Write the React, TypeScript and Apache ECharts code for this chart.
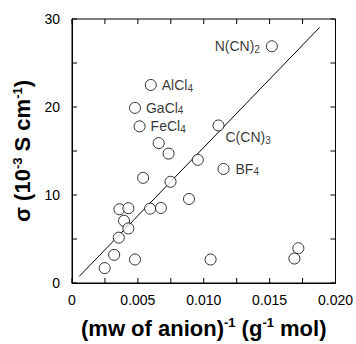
import React, { useEffect, useRef } from "react";
import * as echarts from "echarts";

const xValues = [0.01517, 0.00598, 0.00478, 0.00513, 0.00658, 0.01112, 0.00733, 0.00955, 0.0115, 0.0054, 0.00748, 0.00888, 0.0036, 0.00428, 0.00593, 0.00675, 0.00395, 0.00428, 0.00355, 0.0032, 0.00478, 0.00248, 0.01052, 0.01718, 0.01688];
const yValues = [26.9, 22.5, 19.9, 17.8, 15.9, 17.9, 14.7, 14.0, 12.96, 11.95, 11.5, 9.55, 8.38, 8.5, 8.45, 8.53, 7.07, 6.2, 5.15, 3.2, 2.67, 1.69, 2.67, 3.95, 2.78];
const pointNames = ["N(CN)2", "AlCl4", "GaCl4", "FeCl4", "", "C(CN)3", "", "", "BF4", "", "", "", "", "", "", "", "", "", "", "", "", "", "", "", ""];
const fitX = [0.00055, 0.0188];
const fitY = [0.75, 29.05];
const xTicks = ["0", "0.005", "0.010", "0.015", "0.020"];
const yTicks = ["0", "10", "20", "30"];
const xTickValues = [0, 0.0025, 0.005, 0.0075, 0.01, 0.0125, 0.015, 0.0175, 0.02];
const yTickValues = [0, 5, 10, 15, 20, 25, 30];

const font = "Liberation Sans, Arial, sans-serif";

const labelRich = {
  m: { fontSize: 14, fontFamily: font, color: "#000", lineHeight: 16 },
  s: { fontSize: 10, fontFamily: font, color: "#000", lineHeight: 16, verticalAlign: "bottom" as const, padding: [6, 0, 0, 0] },
};

function fmtName(n: string) {
  const m = n.match(/^(.*?)(\d)$/);
  if (!m) return `{m|${n}}`;
  return `{m|${m[1]}}{s|${m[2]}}`;
}

const labelPlacement: Record<string, { position: any; offset: number[] }> = {
  "N(CN)2": { position: "left", offset: [-1, 0] },
  AlCl4: { position: "right", offset: [0, 0] },
  GaCl4: { position: "right", offset: [0, 0] },
  FeCl4: { position: "right", offset: [0, 0] },
  "C(CN)3": { position: "right", offset: [-4, 12] },
  BF4: { position: "right", offset: [1, 0] },
};

const titleRich = () => ({
  b: { fontSize: 22, fontWeight: "bold" as const, fontFamily: font, color: "#000", lineHeight: 24 },
  p: { fontSize: 13, fontWeight: "bold" as const, fontFamily: font, color: "#000", lineHeight: 24, verticalAlign: "top" as const, padding: [0, 0, 8, 0] },
});

export default function App() {
  const ref = useRef<HTMLDivElement>(null);
  useEffect(() => {
    if (!ref.current) return;
    const chart = echarts.init(ref.current, undefined, { renderer: "svg" });
    const scatterData = xValues.map((x, i) => {
      const name = pointNames[i];
      const item: any = { value: [x, yValues[i]] };
      if (name) {
        const p = labelPlacement[name];
        item.label = {
          show: true,
          position: p.position,
          offset: p.offset,
          formatter: fmtName(name),
          rich: labelRich,
        };
      }
      return item;
    });
    const xMin = xTickValues[0];
    const xMax = xTickValues[xTickValues.length - 1];
    const yMin = yTickValues[0];
    const yMax = yTickValues[yTickValues.length - 1];
    const lineStyle = { stroke: "#000", lineWidth: 1, fill: "none" };
    const frameRender = (params: any, api: any) => {
      const p0 = api.coord([xMin, yMin]);
      const p1 = api.coord([xMax, yMax]);
      const left = p0[0], bottom = p0[1], right = p1[0], top = p1[1];
      const children: any[] = [
        { type: "line", shape: { x1: left, y1: top, x2: right, y2: top }, style: lineStyle },
        { type: "line", shape: { x1: left, y1: bottom, x2: right, y2: bottom }, style: lineStyle },
        { type: "line", shape: { x1: left, y1: top, x2: left, y2: bottom }, style: lineStyle },
        { type: "line", shape: { x1: right, y1: top, x2: right, y2: bottom }, style: lineStyle },
      ];
      const tl = 5;
      xTickValues.forEach((v) => {
        const x = api.coord([v, yMin])[0];
        children.push({ type: "line", shape: { x1: x, y1: bottom, x2: x, y2: bottom - tl }, style: lineStyle });
        children.push({ type: "line", shape: { x1: x, y1: top, x2: x, y2: top + tl }, style: lineStyle });
      });
      yTickValues.forEach((v) => {
        const y = api.coord([xMin, v])[1];
        children.push({ type: "line", shape: { x1: left, y1: y, x2: left + tl, y2: y }, style: lineStyle });
        children.push({ type: "line", shape: { x1: right, y1: y, x2: right - tl, y2: y }, style: lineStyle });
      });
      return { type: "group", children };
    };
    chart.setOption({
      animation: false,
      grid: { left: 72, right: 18, top: 19, bottom: 59 },
      xAxis: {
        type: "value",
        min: 0,
        max: 0.02,
        interval: 0.0025,
        axisLine: { show: true, onZero: false, lineStyle: { color: "#000", width: 1 } },
        axisTick: { show: false },
        splitLine: { show: false },
        axisLabel: {
          color: "#000",
          fontSize: 14,
          fontFamily: font,
          margin: 10,
          formatter: (v: number) => {
            const k = Math.round(v / 0.0025);
            return k % 2 === 0 ? xTicks[k / 2] : "";
          },
        },
        name: "{b|(mw of anion)}{p|-1}{b| (g}{p|-1}{b| mol)}",
        nameLocation: "middle",
        nameGap: 33,
        nameTextStyle: { rich: titleRich() },
      },
      yAxis: {
        type: "value",
        min: 0,
        max: 30,
        interval: 5,
        axisLine: { show: true, onZero: false, lineStyle: { color: "#000", width: 1 } },
        axisTick: { show: false },
        splitLine: { show: false },
        axisLabel: {
          color: "#000",
          fontSize: 14,
          fontFamily: font,
          margin: 12,
          formatter: (v: number) => (v % 10 === 0 ? yTicks[v / 10] : ""),
        },
        name: "{b|σ (10}{p|-3}{b| S cm}{p|-1}{b|)}",
        nameLocation: "middle",
        nameRotate: 90,
        nameGap: 36,
        nameTextStyle: { rich: titleRich() },
      },
      series: [
        {
          type: "custom",
          renderItem: frameRender,
          data: [[xMin, yMin]],
          silent: true,
          clip: false,
          z: 1,
        },
        {
          type: "line",
          data: fitX.map((x, i) => [x, fitY[i]]),
          showSymbol: false,
          symbol: "none",
          lineStyle: { color: "#000", width: 1 },
          z: 2,
        },
        {
          type: "scatter",
          data: scatterData,
          symbol: "circle",
          symbolSize: 11,
          itemStyle: { color: "#fff", borderColor: "#000", borderWidth: 1 },
          z: 3,
        },
      ],
    });
    return () => chart.dispose();
  }, []);
  return <div ref={ref} style={{ width: 356, height: 344, position: "absolute", left: 0, top: 0 }} />;
}
